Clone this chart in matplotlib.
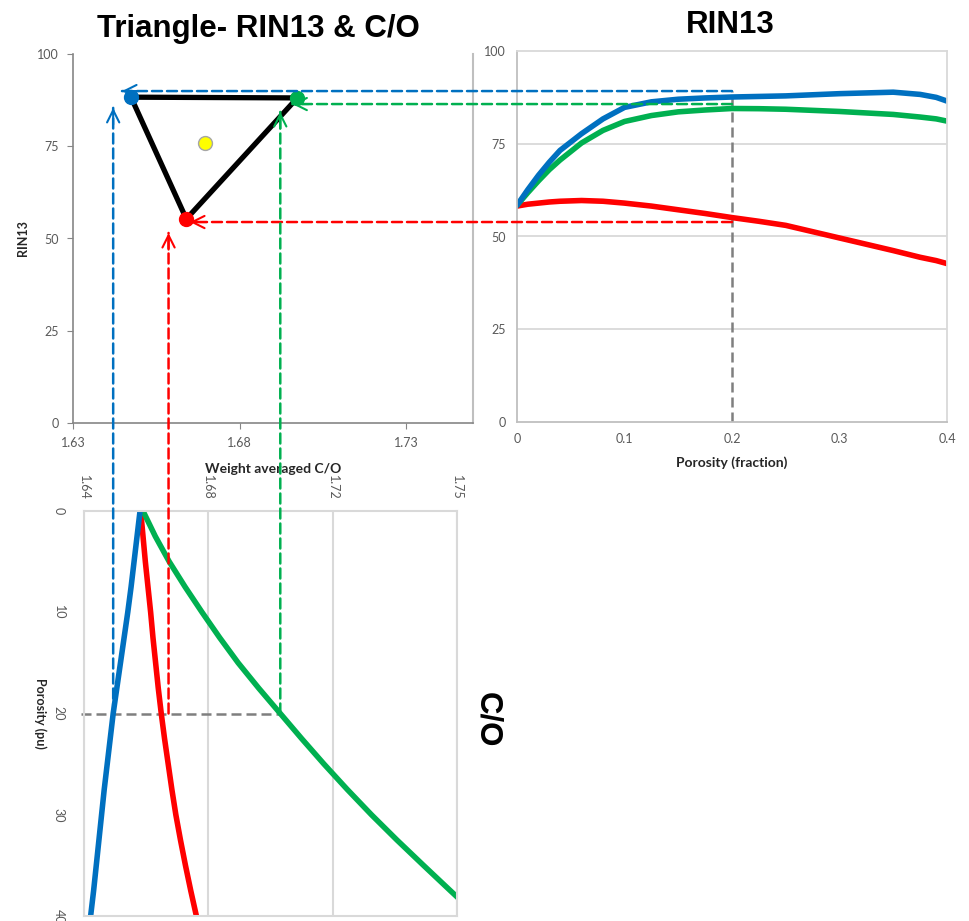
import numpy as np
import matplotlib
matplotlib.use('Agg')
import matplotlib.pyplot as plt
from matplotlib.patches import ConnectionPatch
from matplotlib.transforms import blended_transform_factory as blend

plt.rcParams['font.family'] = ['Lato', 'DejaVu Sans']

BLUE = '#0070C0'
GREEN = '#00B050'
RED = '#FF0000'
GREY = '#7F7F7F'
TXT = '#595959'

# --- triangle: end members (blue, green, red) and the mixture point
end_co = [1.6474, 1.6973, 1.6640]
end_rin = [88.3, 88.1, 55.3]
mix_co = [1.6696]
mix_rin = [75.9]

# --- RIN13 versus porosity (fraction)
phi_frac = [0, 0.01, 0.02, 0.03, 0.04, 0.06, 0.08, 0.1, 0.125, 0.15, 0.175, 0.2,
            0.225, 0.25, 0.275, 0.3, 0.325, 0.35, 0.375, 0.39, 0.4]
rin_blue = [58.4, 62.6, 66.5, 70.0, 73.2, 77.7, 81.7, 84.8, 86.3, 87.0, 87.35, 87.6,
            87.75, 87.9, 88.2, 88.5, 88.7, 88.9, 88.3, 87.5, 86.5]
rin_green = [58.4, 61.8, 65.0, 68.0, 70.6, 75.2, 78.6, 81.0, 82.6, 83.6, 84.1, 84.5,
             84.45, 84.3, 84.0, 83.7, 83.3, 82.9, 82.2, 81.7, 81.1]
rin_red = [58.2, 58.7, 59.0, 59.3, 59.5, 59.7, 59.5, 59.0, 58.2, 57.2, 56.2, 55.1,
           54.1, 53.0, 51.3, 49.6, 47.9, 46.2, 44.4, 43.5, 42.7]

# --- C/O versus porosity (pu)
phi_pu = [0, 2.5, 5, 7.5, 10, 12.5, 15, 17.5, 20, 22.5, 25, 27.5, 30, 32.5, 35, 37.5, 40]
co_blue = [1.6569, 1.6560, 1.6551, 1.6542, 1.6532, 1.6521, 1.6510, 1.6499, 1.6488,
           1.6479, 1.6470, 1.6461, 1.6453, 1.6445, 1.6437, 1.6429, 1.6420]
co_red = [1.6571, 1.6578, 1.6585, 1.6593, 1.6601, 1.6608, 1.6616, 1.6624, 1.6633,
          1.6643, 1.6654, 1.6665, 1.6677, 1.6691, 1.6706, 1.6722, 1.6739]
co_green = [1.6578, 1.6615, 1.6657, 1.6705, 1.6756, 1.6809, 1.6865, 1.6927, 1.6992,
            1.7057, 1.7124, 1.7194, 1.7267, 1.7344, 1.7424, 1.7505, 1.7587]

co_ticks = [1.64, 1.6775, 1.715, 1.7525]
co_ticklabels = ['1.64', '1.68', '1.72', '1.75']

# read-across guide levels
phi_pick = 0.2
pu_pick = 20
rin_link = [89.2, 85.7, 53.9]          # blue, green, red (right chart)
rin_tip_co = [1.6447, 1.6958, 1.6651]   # where the arrows end in the triangle
co_link = [1.6488, 1.6992, 1.6655]      # blue, green, red (bottom chart at 20 pu)
co_tip_rin = [85.4, 84.3, 51.5]
colors = [BLUE, GREEN, RED]

fig = plt.figure(figsize=(9.69, 9.21), dpi=100)
W, H = 969.0, 921.0


def box(l, t, r, b):
    return [l / W, (H - b) / H, (r - l) / W, (b - t) / H]


ax_t = fig.add_axes(box(73, 54, 473, 423))
ax_r = fig.add_axes(box(517, 51, 947, 422))
ax_b = fig.add_axes(box(84, 511, 457, 916))

# ---------------- triangle chart
ax_t.set_xlim(1.63, 1.75)
ax_t.set_ylim(0, 100)
ax_t.set_xticks([1.63, 1.68, 1.73])
ax_t.set_xticklabels(['1.63', '1.68', '1.73'])
ax_t.set_yticks([0, 25, 50, 75, 100])
tri_x = end_co + [end_co[0]]
tri_y = end_rin + [end_rin[0]]
ax_t.plot(tri_x, tri_y, color='black', lw=3.8, solid_joinstyle='round', zorder=3)
for cx, ry, c in zip(end_co, end_rin, colors):
    ax_t.plot(cx, ry, 'o', ms=10, color=c, zorder=4)
ax_t.plot(mix_co, mix_rin, 'o', ms=10, mfc='#FFFF00', mec='#A6A6A6', mew=1, zorder=4)
for s in ['left', 'bottom']:
    ax_t.spines[s].set_color('#868686')
    ax_t.spines[s].set_linewidth(1.2)
ax_t.spines['right'].set_color('#BFBFBF')
ax_t.spines['right'].set_linewidth(1.5)
ax_t.spines['top'].set_visible(False)
ax_t.tick_params(direction='out', length=4, color='#868686', labelsize=9, labelcolor=TXT, pad=6)
ax_t.set_xlabel('Weight averaged C/O', fontsize=10, fontweight='bold', color='#262626', labelpad=10)
ax_t.set_ylabel('RIN13', fontsize=9, fontweight='bold', color='#262626', labelpad=6)

# ---------------- RIN13 vs porosity
ax_r.set_xlim(0, 0.4)
ax_r.set_ylim(0, 100)
ax_r.set_xticks([0, 0.1, 0.2, 0.3, 0.4])
ax_r.set_xticklabels(['0', '0.1', '0.2', '0.3', '0.4'])
ax_r.set_yticks([0, 25, 50, 75, 100])
for v in [25, 50, 75]:
    ax_r.axhline(v, color='#D9D9D9', lw=1.3, zorder=0)
ax_r.plot(phi_frac, rin_red, color=RED, lw=4, solid_capstyle='round')
ax_r.plot(phi_frac, rin_green, color=GREEN, lw=4, solid_capstyle='round')
ax_r.plot(phi_frac, rin_blue, color=BLUE, lw=4, solid_capstyle='round')
ax_r.plot([phi_pick, phi_pick], [0, rin_link[0]], color=GREY, lw=1.8, dashes=(4, 2), zorder=1)
for s in ['left', 'bottom']:
    ax_r.spines[s].set_color('#BFBFBF')
for s in ['top', 'right']:
    ax_r.spines[s].set_color('#D9D9D9')
for s in ax_r.spines.values():
    s.set_linewidth(1.3)
ax_r.tick_params(length=0, labelsize=9, labelcolor=TXT, pad=8)
ax_r.set_xlabel('Porosity (fraction)', fontsize=10, fontweight='bold', color='#262626', labelpad=8)

# ---------------- C/O vs porosity (rotated layout)
ax_b.set_xlim(co_ticks[0], co_ticks[-1])
ax_b.set_ylim(40, 0)
ax_b.xaxis.tick_top()
ax_b.set_xticks(co_ticks)
ax_b.set_xticklabels(co_ticklabels, rotation=-90)
ax_b.set_yticks([0, 10, 20, 30, 40])
ax_b.set_yticklabels(['0', '10', '20', '30', '40'], rotation=-90, va='center')
ax_b.grid(axis='x', color='#D9D9D9', lw=1.5)
ax_b.set_axisbelow(True)
ax_b.plot(co_red, phi_pu, color=RED, lw=4)
ax_b.plot(co_green, phi_pu, color=GREEN, lw=4)
ax_b.plot(co_blue, phi_pu, color=BLUE, lw=4)
ax_b.plot([co_ticks[0] - 0.0008, co_link[1]], [pu_pick, pu_pick], color=GREY, lw=1.8,
          dashes=(4, 2), clip_on=False, zorder=1)
for s in ax_b.spines.values():
    s.set_color('#D9D9D9')
    s.set_linewidth(1.5)
ax_b.tick_params(length=0, labelsize=9, labelcolor=TXT)
ax_b.tick_params(axis='x', pad=8)
ax_b.tick_params(axis='y', pad=14)
ax_b.set_ylabel('Porosity (pu)', fontsize=9, fontweight='bold', color='#262626', rotation=-90)
ax_b.yaxis.set_label_coords(-0.135, 0.5)

# ---------------- read-across guides
dash = (4, 2)
for lvl, tip, c in zip(rin_link, rin_tip_co, colors):
    tr = blend(ax_t.transData, ax_r.transData)
    con = ConnectionPatch(xyA=(phi_pick, lvl), coordsA=ax_r.transData,
                          xyB=(tip, lvl), coordsB=tr, color=c, lw=1.8,
                          linestyle=(0, dash), zorder=5)
    fig.add_artist(con)
    ax_t.annotate('', xy=(tip, lvl), xycoords=tr, xytext=(12, 0), textcoords='offset points',
                  arrowprops=dict(arrowstyle='->', color=c, lw=1.5, mutation_scale=22,
                                  shrinkA=0, shrinkB=0), annotation_clip=False)

for cx, tip, c in zip(co_link, co_tip_rin, colors):
    tr = blend(ax_b.transData, ax_t.transData)
    con = ConnectionPatch(xyA=(cx, pu_pick), coordsA=ax_b.transData,
                          xyB=(cx, tip), coordsB=tr, color=c, lw=1.8,
                          linestyle=(0, dash), zorder=5)
    fig.add_artist(con)
    ax_t.annotate('', xy=(cx, tip), xycoords=tr, xytext=(0, -12), textcoords='offset points',
                  arrowprops=dict(arrowstyle='->', color=c, lw=1.5, mutation_scale=22,
                                  shrinkA=0, shrinkB=0), annotation_clip=False)

# ---------------- titles
title_font = ['Liberation Sans', 'DejaVu Sans']
fig.text(258 / W, 1 - 29 / H, 'Triangle- RIN13 & C/O', ha='center', va='center',
         fontsize=22.5, fontweight='bold', family=title_font)
fig.text(730 / W, 1 - 25 / H, 'RIN13', ha='center', va='center',
         fontsize=22.5, fontweight='bold', family=title_font)
fig.text(487 / W, 1 - 720 / H, 'C/O', ha='center', va='center', rotation=-90,
         fontsize=22.5, fontweight='bold', family=title_font)

fig.savefig('out.png', dpi=100)
